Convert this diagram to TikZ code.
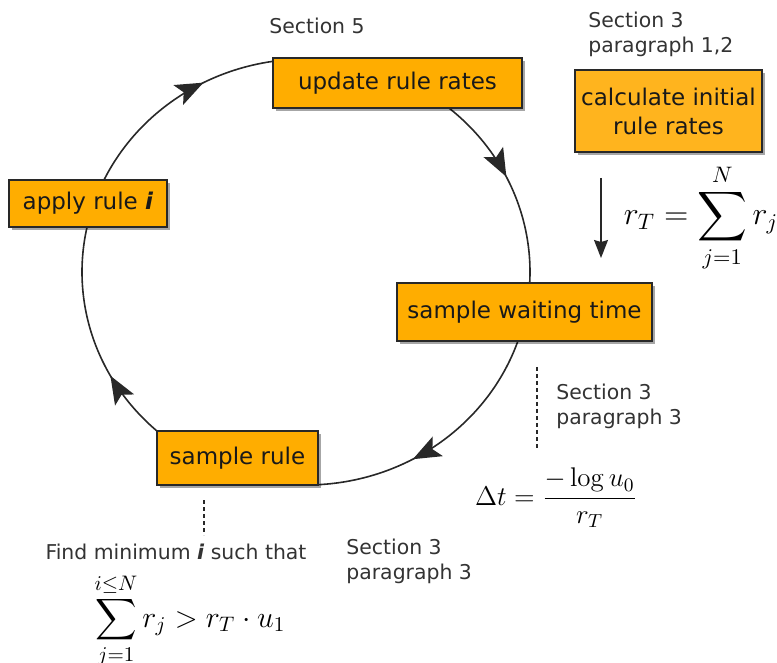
\RequirePackage{fix-cm}
\documentclass[tikz,border=0pt]{standalone}
\usepackage{amsmath}
\usepackage{exscale}
\usepackage[no-math]{fontspec}
\setmainfont{DejaVu Sans}
\usetikzlibrary{arrows.meta,shadows,decorations.markings,backgrounds,calc}
\definecolor{boxorange}{RGB}{255,173,0}
\definecolor{boxyellow}{RGB}{255,180,30}
\definecolor{inkgray}{RGB}{40,40,40}
\begin{document}
\begin{tikzpicture}[x=0.5pt,y=0.5pt,
				rate node/.style = {rectangle,draw=inkgray,line width=0.7pt,fill=boxorange,
					inner sep=0pt,font=\fontsize{11.5}{14.5}\selectfont,text=black!90,
					drop shadow={shadow xshift=1.6pt,shadow yshift=-1.6pt,fill=black,opacity=0.35}},
				note/.style = {font=\fontsize{10.2}{12.5}\selectfont,text=black!80,inner sep=0pt},
				cycle arc/.style = {draw=inkgray,line width=0.8pt,postaction={decorate},
					decoration={markings,mark=at position #1 with {\arrow{Stealth[length=14pt,width=11pt,inset=3pt]}}}},
				hint/.style = {draw=inkgray,line width=0.7pt,dash pattern=on 2pt off 1.5pt}]
				\useasboundingbox (0,0) rectangle (777,-663);
				
				% boxes of the cycle
				\node[rate node,minimum width=124.5pt,minimum height=25pt] at (397.5,-83) (1) {update rule rates};
				\node[rate node,minimum width=127.5pt,minimum height=29pt] at (524.5,-312) (2) {sample waiting time};
				\node[rate node,minimum width=80.5pt,minimum height=27pt] at (237.5,-458) (3) {sample rule};
				\node[rate node,minimum width=79pt,minimum height=23.5pt] at (88,-203.5) (4) {apply rule \textbf{\textit{i}}};
				\node[rate node,fill=boxyellow,minimum width=93.5pt,minimum height=41pt,align=center] at (668.5,-111) (5) {calculate initial\\rule rates};
				
				% section notes
				\node[note] at (317,-26) (6) {Section 5};
				\node[note,align=left,anchor=west] at (588,-34) (7) {Section 3\\paragraph 1,2};
				\node[note,align=left,anchor=west] at (556,-406) (8) {Section 3\\paragraph 3};
				\node[note,align=left,anchor=west] at (346,-561) (9) {Section 3\\paragraph 3};
				\node[note] at (176,-552) (10) {Find minimum \textbf{\textit{i}} such that};
				
				% formulas
				\node[inner sep=0pt,font=\fontsize{16}{19}\selectfont] at (701,-218) (11) {$\displaystyle r_T=\sum_{j=1}^{N} r_j$};
				\node[inner sep=0pt,font=\fontsize{13.5}{16}\selectfont] at (556,-498) (12) {$\displaystyle \Delta t=\frac{-\log u_0}{r_T}$};
				\node[inner sep=0pt,font=\fontsize{15}{18}\selectfont] at (190,-621) (13) {$\displaystyle \sum_{j=1}^{i\leq N} r_j > r_T\cdot u_1$};
				
				\coordinate (c) at (306,-272);
				\coordinate (a) at ($(c)+(154.4:224 and 213)$);
				\coordinate (b) at ($(c)+(50.3:224 and 213)$);
				\coordinate (d) at ($(c)+(-18.9:224 and 213)$);
				\coordinate (e) at ($(c)+(232:224 and 213)$);
				\coordinate (f) at (601,-178);
				\coordinate (g) at (601,-258);
				\coordinate (h) at (537,-367);
				\coordinate (k) at (537,-450);
				\coordinate (l) at (204,-500);
				\coordinate (m) at (204,-535);
				
				\begin{pgfonlayer}{background}
				\path[cycle arc=0.66] (a) arc[start angle=154.4,end angle=98.5,x radius=224,y radius=213];
				\path[cycle arc=0.45] (b) arc[start angle=50.3,end angle=-2.96,x radius=224,y radius=213];
				\path[cycle arc=0.62] (d) arc[start angle=-18.9,end angle=-87,x radius=224,y radius=213];
				\path[cycle arc=0.36] (e) arc[start angle=232,end angle=167.8,x radius=224,y radius=213];
				\end{pgfonlayer}
				
				\draw[draw=inkgray,line width=0.7pt,-{Stealth[length=9pt,width=7pt,inset=1pt]}] (f) -- (g);
				\draw[hint] (h) -- (k);
				\draw[hint] (l) -- (m);
				\end{tikzpicture}
\end{document}
